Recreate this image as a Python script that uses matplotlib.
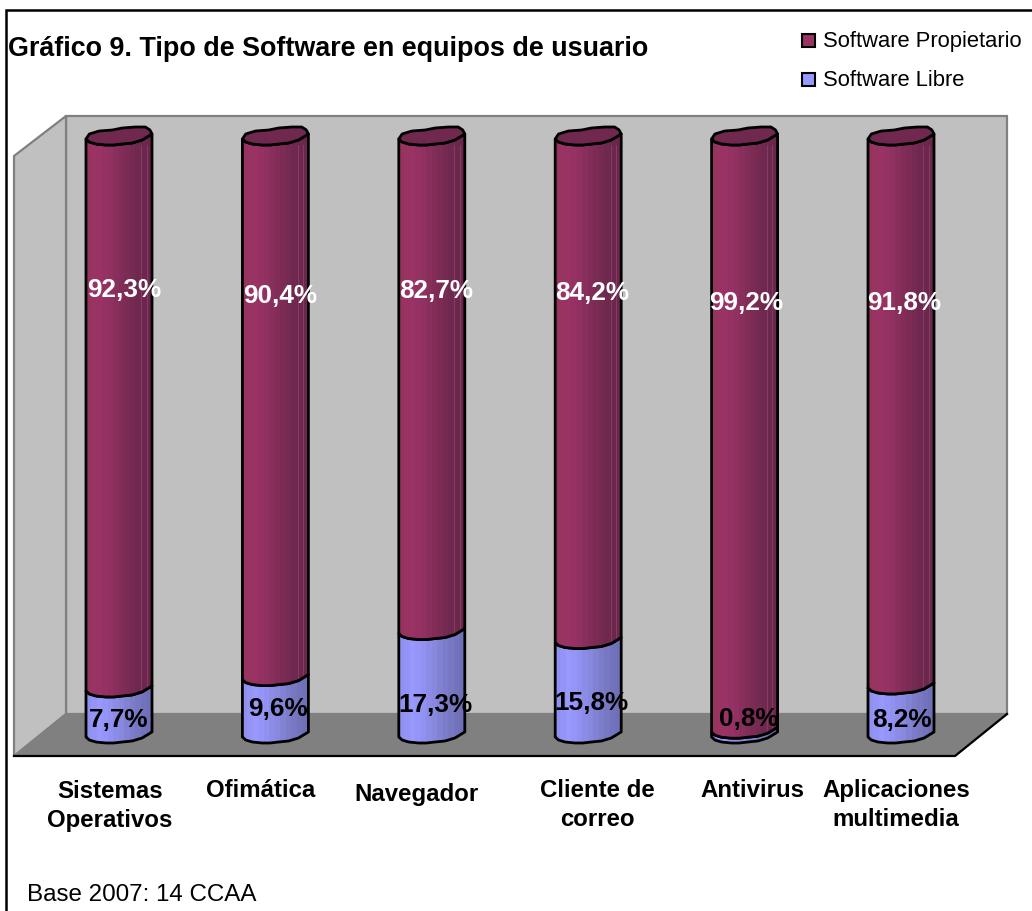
import numpy as np
import matplotlib
matplotlib.use("Agg")
import matplotlib.pyplot as plt
from matplotlib.patches import Polygon, Rectangle
from matplotlib.colors import LinearSegmentedColormap

categories = ["Sistemas\nOperativos", "Ofimática", "Navegador", "Cliente de\ncorreo", "Antivirus", "Aplicaciones\nmultimedia"]
software_propietario = [92.3, 90.4, 82.7, 84.2, 99.2, 91.8]
software_libre = [7.7, 9.6, 17.3, 15.8, 0.8, 8.2]

# layout (pixel positions on the figure)
W, H = 1032, 912
BASE_Y, PX_PER_PCT = 738, 5.98
BAR_X0, BAR_STEP, BAR_W = 86, 156.4, 66
prop_label_xy = [(124, 290), (280, 296), (436, 291), (592, 293), (746, 303), (904, 303)]
libre_label_xy = [(119, 720), (278, 709), (436, 705), (592, 703), (749, 719), (902, 720)]
cat_xy = [(110, 806), (261, 791), (416, 795), (597, 805), (752, 791), (896, 805)]

plt.rcParams["font.family"] = ["Liberation Sans", "DejaVu Sans"]
fig = plt.figure(figsize=(W / 100, H / 100), dpi=100, facecolor="white")
ax = fig.add_axes([0, 0, 1, 1])
ax.set_xlim(0, W)
ax.set_ylim(H, 0)
ax.axis("off")

# frame
ax.add_patch(Rectangle((6, 11), W - 6 + 4, H, fc="white", ec="black", lw=1.8, zorder=0))

# 3D walls and floor
wall_c, wall_e = "#C0C0C0", "#808080"
ax.add_patch(Polygon([(66, 117), (1007, 117), (1007, 715), (66, 715)], fc=wall_c, ec=wall_e, lw=1.6, zorder=1))
ax.add_patch(Polygon([(14, 157), (66, 117), (66, 715), (14, 757)], fc=wall_c, ec=wall_e, lw=1.6, zorder=1))
ax.add_patch(Polygon([(14, 757), (66, 715), (1007, 715), (955, 757)], fc="#808080", ec=wall_e, lw=1.2, zorder=1))
ax.plot([14, 955, 1007], [757, 757, 715], color="black", lw=1.6, zorder=2)

# outline of a cylinder's cross-section, relative to its left edge
t_low = [0, .05, .15, .3, .42, .55, .7, .85, .95, 1]
dy_low = [0, 3, 5, 6, 6, 5, 4, 1, -3, -5]
t_up = [0, .05, .2, .4, .55, .75, .9, .97, 1]
dy_up = [0, -5, -8, -9, -11, -12, -12, -9, -5]
tt = np.linspace(0, 1, 60)


def lower(x0, y):
    return np.c_[x0 + tt * BAR_W, y + np.interp(tt, t_low, dy_low)]


def upper(x0, y):
    return np.c_[x0 + tt * BAR_W, y + np.interp(tt, t_up, dy_up)]


cmap_p = LinearSegmentedColormap.from_list("p", ["#96335F", "#9B3366", "#8E3160", "#7E2C55", "#702950", "#6A274B"])
cmap_l = LinearSegmentedColormap.from_list("l", ["#9090F0", "#9999FF", "#9090EE", "#8585D8", "#7878C4", "#7070B8"])
grad = np.linspace(0, 1, 12).reshape(1, -1)


def segment(x0, y_top, y_bot, cmap, z):
    poly = np.vstack([lower(x0, y_top), lower(x0, y_bot)[::-1]])
    patch = Polygon(poly, closed=True, fc="none", ec="black", lw=2, zorder=z + .2, joinstyle="round")
    im = ax.imshow(grad, cmap=cmap, aspect="auto", extent=(x0, x0 + BAR_W, y_bot + 10, y_top - 10),
                   zorder=z, interpolation="nearest")
    ax.add_patch(patch)
    im.set_clip_path(Polygon(poly, closed=True, transform=ax.transData))
    return patch


for i, (p, l) in enumerate(zip(software_propietario, software_libre)):
    x0 = BAR_X0 + BAR_STEP * i
    y_mid = BASE_Y - l * PX_PER_PCT
    y_top = BASE_Y - (l + p) * PX_PER_PCT
    segment(x0, y_mid, BASE_Y, cmap_l, 3)
    segment(x0, y_top, y_mid, cmap_p, 4)
    # faint facet lines near the right side
    for f in (.84, .92):
        ax.plot([x0 + f * BAR_W] * 2, [y_top + 6, y_mid - 2], color="#A8537F", lw=.6, alpha=.55, zorder=4.1)
    cap = np.vstack([lower(x0, y_top), upper(x0, y_top)[::-1]])
    ax.add_patch(Polygon(cap, closed=True, fc="#70284F", ec="black", lw=2, zorder=5, joinstyle="round"))

    ax.text(*prop_label_xy[i], f"{p:.1f}%".replace(".", ","), color="white", fontsize=18.8, fontweight="bold",
            ha="center", va="center", zorder=8)
    ax.text(*libre_label_xy[i], f"{l:.1f}%".replace(".", ","), color="black", fontsize=18.8, fontweight="bold",
            ha="center", va="center", zorder=8)
    ax.text(*cat_xy[i], categories[i], color="black", fontsize=17.3, fontweight="bold", ha="center",
            va="center", linespacing=1.38, zorder=8)

ax.set_xlim(0, W)
ax.set_ylim(H, 0)

ax.text(8, 49, "Gráfico 9. Tipo de Software en equipos de usuario", fontsize=19.4, fontweight="bold",
        ha="left", va="center")
ax.text(27, 895, "Base 2007: 14 CCAA", fontsize=17.4, ha="left", va="center")

# legend
for name, color, y in (("Software Propietario", "#993366", 41), ("Software Libre", "#9999FF", 80)):
    ax.add_patch(Rectangle((802, y - 6), 13, 13, fc=color, ec="black", lw=1.5, zorder=6))
    ax.text(823, y + 1, name, fontsize=15.8, ha="left", va="center")

fig.savefig("out.png", dpi=100)
